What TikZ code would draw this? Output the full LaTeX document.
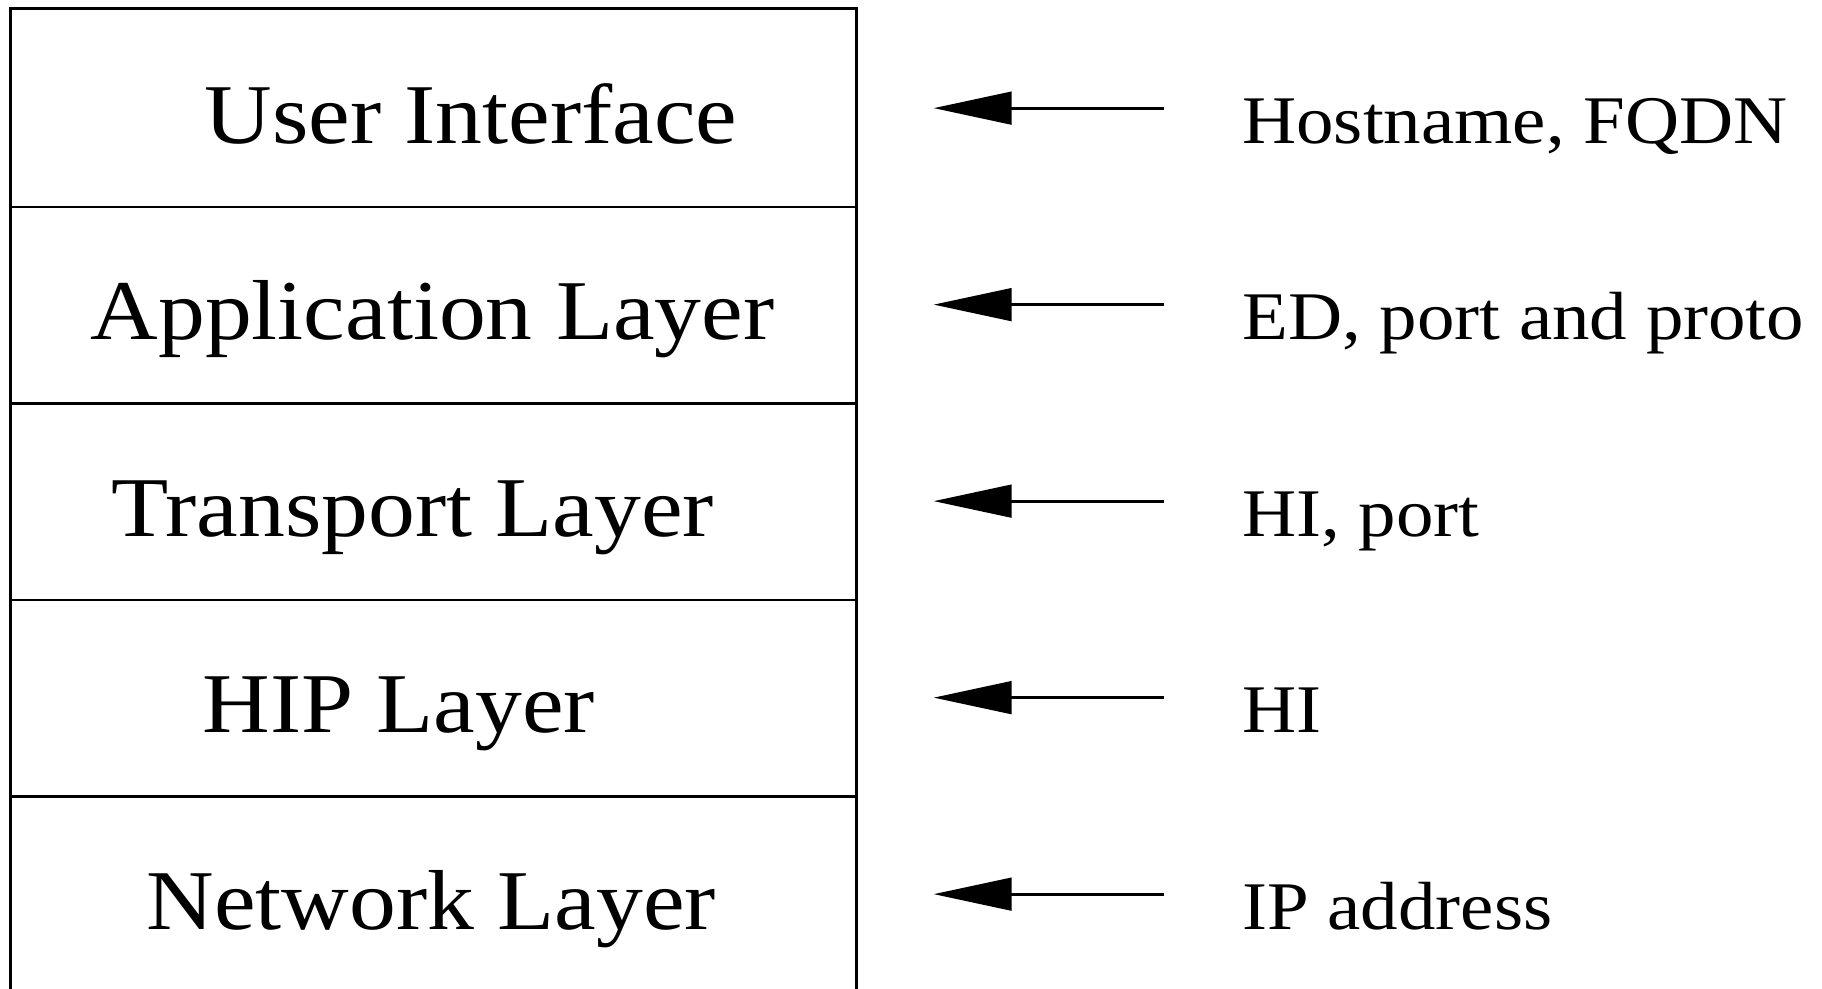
\documentclass[tikz,border=0pt]{standalone}
\usepackage{fontspec}
\setmainfont{Liberation Serif}[FakeStretch=1.1]
\usetikzlibrary{arrows.meta}
\tikzset{
  layer/.style={anchor=base, inner sep=0pt, font=\fontsize{36.6}{40}\selectfont},
  ident/.style={anchor=base west, inner sep=0pt, font=\fontsize{29.3}{32}\selectfont},
  sep/.style={line width=1.25pt},
  feed/.style={line width=1.3pt, -{Triangle[length=33.5pt, width=14pt]}}
}
\begin{document}
\begin{tikzpicture}[x=0.5pt,y=-0.5pt]
\useasboundingbox (0,0) rectangle (1567,850);
% stack box
\draw[sep] (9,870) -- (9,7) -- (737,7) -- (737,870);
\foreach \yy in {178,347,516,685} \draw[sep] (9,\yy) -- (737,\yy);
% layer names
\node[layer] (ui) at (405,123) {User Interface};
\node[layer] (app) at (372,292) {Application Layer};
\node[layer] (tr) at (355,461) {Transport Layer};
\node[layer] (hip) at (343,630) {HIP Layer};
\node[layer] (net) at (371,799) {Network Layer};
% identifiers
\node[ident] (i1) at (1068,123) {Hostname, FQDN};
\node[ident] (i2) at (1068,292) {ED, port and proto};
\node[ident] (i3) at (1068,461) {HI, port};
\node[ident] (i4) at (1068,630) {HI};
\node[ident] (i5) at (1068,799) {IP address};
% arrows
\foreach \k/\yy in {1/93,2/262,3/431,4/600,5/769}{
  \coordinate (s\k) at (1001,\yy);
  \coordinate (t\k) at (803,\yy);
  \draw[feed] (s\k) -- (t\k);
}
\end{tikzpicture}
\end{document}
